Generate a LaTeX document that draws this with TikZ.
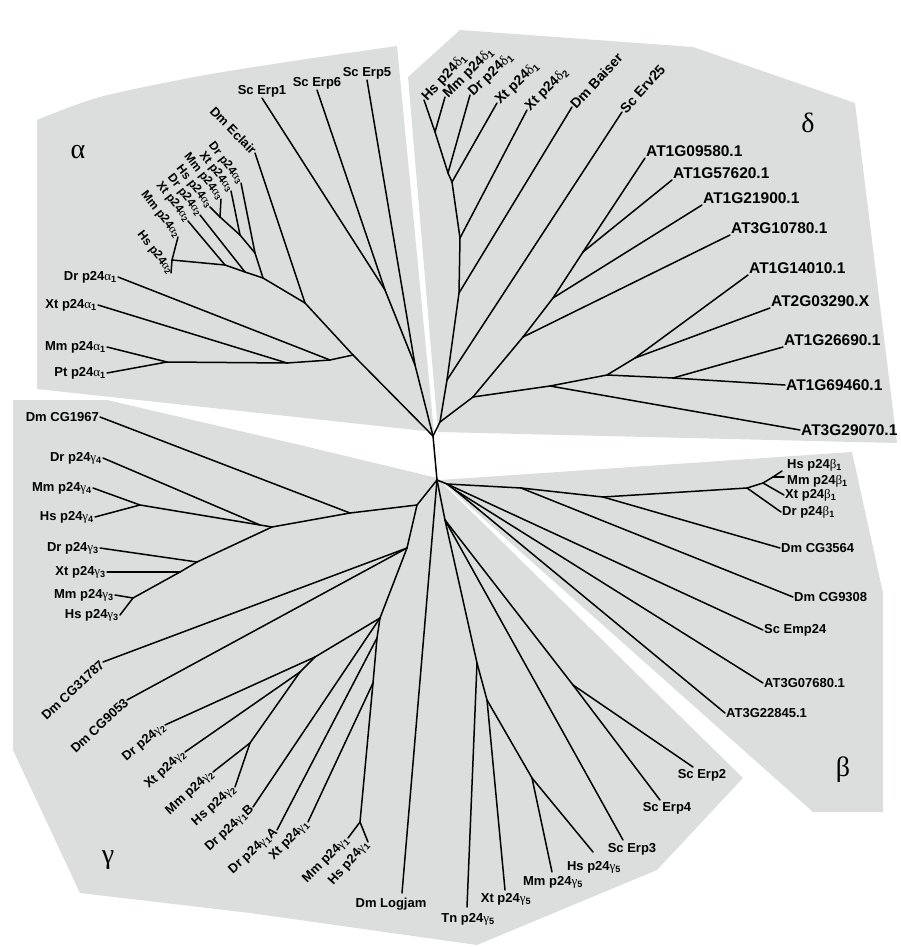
\documentclass[tikz,border=0pt]{standalone}
\usepackage{fontspec}
\setmainfont{Liberation Sans}
\newfontfamily\grk{Liberation Serif}
\newcommand\pg[2]{p24{\grk\mdseries #1}\textsubscript{#2}}
\begin{document}
\begin{tikzpicture}[x=1pt,y=-1pt,
  panel/.style={fill={rgb,255:red,220;green,222;blue,221},draw=none},
  br/.style={line width=1.5pt,line cap=round,line join=round},
  lab/.style={font=\bfseries\fontsize{13}{15}\selectfont,inner sep=1pt},
  laba/.style={font=\bfseries\fontsize{12}{14}\selectfont,inner sep=0.5pt},
  labd/.style={font=\bfseries\fontsize{14}{16}\selectfont,inner sep=1pt},
  labb/.style={font=\bfseries\fontsize{15.5}{17}\selectfont,inner sep=1pt},
  big/.style={font=\grk\fontsize{28}{30}\selectfont}]
\useasboundingbox (0,0) rectangle (901,947);
% panels
\fill[panel] plot[smooth,tension=0.5] coordinates {(37,120) (100,97) (200,76) (300,60) (397,46)} -- (434,432) -- (37,389) -- cycle;
\fill[panel] (408,77) -- (460,30) -- (693,47) -- (855,103) -- (897,443) -- (438,432) -- cycle;
\fill[panel] (440,480) -- (852,452) -- (883,593) -- (883,812) -- (813,812) -- cycle;
\fill[panel] (13,400) -- (107,400) -- (300,445) -- (437,478) -- (743,778) -- (657,870) -- (477,945) -- (250,913) -- (80,893) -- (13,750) -- cycle;
\node[big] (galpha) at (78,152) {α};
\node[big] (gdelta) at (808,123) {δ};
\node[big] (gbeta) at (843,770) {β};
\node[big] (ggamma) at (108,860) {γ};
% internal nodes
\coordinate (A) at (433,436);
\coordinate (B) at (437,480);
\coordinate (E5) at (415,365);
\coordinate (E16) at (385,290);
\coordinate (Na) at (305,303);
\coordinate (Aa1) at (353,355);
\coordinate (a23) at (263,278);
\coordinate (r3) at (255,253);
\coordinate (x3) at (240,235);
\coordinate (m3) at (220,217);
\coordinate (r2) at (245,272);
\coordinate (x2) at (225,265);
\coordinate (m2) at (172,260);
\coordinate (a1b) at (330,360);
\coordinate (a1a) at (287,363);
\coordinate (a1mp) at (167,362);
% leaves alpha
\coordinate (lErp1) at (262,98);
\coordinate (lErp6) at (317,90);
\coordinate (lErp5) at (367,80);
\coordinate (lEcl) at (255,153);
\coordinate (lDra3) at (241,183);
\coordinate (lXta3) at (231,191);
\coordinate (lMma3) at (221,199);
\coordinate (lHsa3) at (210,207);
\coordinate (lDra2) at (200,215);
\coordinate (lXta2) at (188,221);
\coordinate (lMma2) at (178,237);
\coordinate (lHsa2) at (171,273);
\coordinate (lDra1) at (118,277);
\coordinate (lXta1) at (98,305);
\coordinate (lMma1) at (107,347);
\coordinate (lPta1) at (107,373);
\draw[br] (A) -- (B);
\draw[br] (A) -- (E5); \draw[br] (E5) -- (E16);
\draw[br] (E16) -- (lErp1); \draw[br] (E16) -- (lErp6); \draw[br] (E5) -- (lErp5);
\draw[br] (A) -- (Aa1); \draw[br] (Aa1) -- (Na); \draw[br] (Na) -- (lEcl);
\draw[br] (Na) -- (a23); \draw[br] (a23) -- (r3); \draw[br] (a23) -- (r2);
\draw[br] (r3) -- (lDra3); \draw[br] (r3) -- (x3); \draw[br] (x3) -- (lXta3);
\draw[br] (x3) -- (m3); \draw[br] (m3) -- (lMma3); \draw[br] (m3) -- (lHsa3);
\draw[br] (r2) -- (lDra2); \draw[br] (r2) -- (x2); \draw[br] (x2) -- (lXta2);
\draw[br] (x2) -- (m2); \draw[br] (m2) -- (lMma2); \draw[br] (m2) -- (lHsa2);
\draw[br] (Aa1) -- (a1b); \draw[br] (a1b) -- (lDra1); \draw[br] (a1b) -- (a1a);
\draw[br] (a1a) -- (lXta1); \draw[br] (a1a) -- (a1mp);
\draw[br] (a1mp) -- (lMma1); \draw[br] (a1mp) -- (lPta1);
\node[lab,anchor=south] (tErp1) at (lErp1) {Sc Erp1};
\node[lab,anchor=south] (tErp6) at (lErp6) {Sc Erp6};
\node[lab,anchor=south] (tErp5) at (lErp5) {Sc Erp5};
\node[lab,anchor=east,rotate=-46] (tEcl) at (lEcl) {Dm Eclair};
\node[laba,anchor=east,rotate=-52] (tDra3) at (lDra3) {Dr \pg{α}{3}};
\node[laba,anchor=east,rotate=-52] (tXta3) at (lXta3) {Xt \pg{α}{3}};
\node[laba,anchor=east,rotate=-52] (tMma3) at (lMma3) {Mm \pg{α}{3}};
\node[laba,anchor=east,rotate=-52] (tHsa3) at (lHsa3) {Hs \pg{α}{3}};
\node[laba,anchor=east,rotate=-52] (tDra2) at (lDra2) {Dr \pg{α}{2}};
\node[laba,anchor=east,rotate=-52] (tXta2) at (lXta2) {Xt \pg{α}{2}};
\node[laba,anchor=east,rotate=-52] (tMma2) at (lMma2) {Mm \pg{α}{2}};
\node[laba,anchor=east,rotate=-52] (tHsa2) at (lHsa2) {Hs \pg{α}{2}};
\node[lab,anchor=east] (tDra1) at (lDra1) {Dr \pg{α}{1}};
\node[lab,anchor=east] (tXta1) at (lXta1) {Xt \pg{α}{1}};
\node[lab,anchor=east] (tMma1) at (lMma1) {Mm \pg{α}{1}};
\node[lab,anchor=east] (tPta1) at (lPta1) {Pt \pg{α}{1}};
% delta
\coordinate (D0) at (440,422);
\coordinate (d1) at (447,380);
\coordinate (d2) at (459,293);
\coordinate (d3) at (460,238);
\coordinate (d4) at (452,182);
\coordinate (d5) at (448,173);
\coordinate (d6) at (435,132);
\coordinate (lHsd) at (424,100);
\coordinate (lMmd) at (445,97);
\coordinate (lDrd) at (470,95);
\coordinate (lXtd1) at (497,103);
\coordinate (lXtd2) at (527,110);
\coordinate (lBai) at (572,107);
\coordinate (lErv) at (622,112);
\draw[br] (A) -- (D0); \draw[br] (D0) -- (d1); \draw[br] (d1) -- (lErv);
\draw[br] (d1) -- (d2); \draw[br] (d2) -- (lBai); \draw[br] (d2) -- (d3);
\draw[br] (d3) -- (lXtd2); \draw[br] (d3) -- (d4); \draw[br] (d4) -- (lXtd1);
\draw[br] (d4) -- (d5); \draw[br] (d5) -- (lDrd); \draw[br] (d5) -- (d6);
\draw[br] (d6) -- (lHsd); \draw[br] (d6) -- (lMmd);
\node[labd,anchor=west,rotate=47] (tHsd) at (lHsd) {Hs \pg{δ}{1}};
\node[labd,anchor=west,rotate=45] (tMmd) at (lMmd) {Mm \pg{δ}{1}};
\node[labd,anchor=west,rotate=44] (tDrd) at (lDrd) {Dr \pg{δ}{1}};
\node[labd,anchor=west,rotate=44] (tXtd1) at (lXtd1) {Xt \pg{δ}{1}};
\node[labd,anchor=west,rotate=45] (tXtd2) at (lXtd2) {Xt \pg{δ}{2}};
\node[labd,anchor=west,rotate=47] (tBai) at (lBai) {Dm Baiser};
\node[labd,anchor=west,rotate=48] (tErv) at (lErv) {Sc Erv25};
% AT (delta)
\coordinate (P3) at (473,397);
\coordinate (t1) at (523,337);
\coordinate (t2) at (553,298);
\coordinate (t3) at (583,252);
\coordinate (P2) at (550,386);
\coordinate (P1) at (607,375);
\coordinate (u1) at (635,358);
\coordinate (u2) at (673,378);
\coordinate (lAT1) at (645,158);
\coordinate (lAT2) at (672,180);
\coordinate (lAT3) at (702,205);
\coordinate (lAT4) at (730,235);
\coordinate (lAT5) at (748,275);
\coordinate (lAT6) at (770,308);
\coordinate (lAT7) at (783,347);
\coordinate (lAT8) at (785,385);
\coordinate (lAT9) at (800,430);
\draw[br] (D0) -- (P3); \draw[br] (P3) -- (t1); \draw[br] (t1) -- (lAT4);
\draw[br] (t1) -- (t2); \draw[br] (t2) -- (lAT3); \draw[br] (t2) -- (t3);
\draw[br] (t3) -- (lAT1); \draw[br] (t3) -- (lAT2);
\draw[br] (P3) -- (P2); \draw[br] (P2) -- (lAT9); \draw[br] (P2) -- (P1);
\draw[br] (P1) -- (u1); \draw[br] (u1) -- (lAT5); \draw[br] (u1) -- (lAT6);
\draw[br] (P1) -- (u2); \draw[br] (u2) -- (lAT7); \draw[br] (u2) -- (lAT8);
\node[labb,anchor=south west] (tAT1) at (lAT1) {AT1G09580.1};
\node[labb,anchor=south west] (tAT2) at (lAT2) {AT1G57620.1};
\node[labb,anchor=south west] (tAT3) at (lAT3) {AT1G21900.1};
\node[labb,anchor=south west] (tAT4) at (lAT4) {AT3G10780.1};
\node[labb,anchor=south west] (tAT5) at (lAT5) {AT1G14010.1};
\node[labb,anchor=south west] (tAT6) at (lAT6) {AT2G03290.X};
\node[labb,anchor=south west] (tAT7) at (lAT7) {AT1G26690.1};
\node[labb,anchor=west] (tAT8) at (lAT8) {AT1G69460.1};
\node[labb,anchor=west] (tAT9) at (lAT9) {AT3G29070.1};
% beta
\coordinate (b0) at (447,484);
\coordinate (b1) at (521,488);
\coordinate (b2) at (603,497);
\coordinate (b3) at (747,488);
\coordinate (b4) at (763,483);
\coordinate (b5) at (773,477);
\coordinate (b6) at (455,490);
\coordinate (lHsb) at (782,471);
\coordinate (lMmb) at (784,477);
\coordinate (lXtb) at (784,495);
\coordinate (lDrb) at (781,512);
\coordinate (lC35) at (780,548);
\coordinate (lC93) at (793,597);
\coordinate (lEmp) at (763,630);
\coordinate (lAT10) at (763,683);
\coordinate (lAT11) at (725,713);
\draw[br] (B) -- (b0); \draw[br] (b0) -- (b1); \draw[br] (b1) -- (lC93);
\draw[br] (b1) -- (b2); \draw[br] (b2) -- (lC35); \draw[br] (b2) -- (b3);
\draw[br] (b3) -- (lDrb); \draw[br] (b3) -- (b4); \draw[br] (b4) -- (lXtb);
\draw[br] (b4) -- (b5); \draw[br] (b5) -- (lHsb); \draw[br] (b5) -- (lMmb);
\draw[br] (b0) -- (lEmp); \draw[br] (b0) -- (b6);
\draw[br] (b6) -- (lAT10); \draw[br] (b6) -- (lAT11);
\node[lab,anchor=west] (tHsb) at (786,465) {Hs \pg{β}{1}};
\node[lab,anchor=west] (tMmb) at (786,481) {Mm \pg{β}{1}};
\node[lab,anchor=west] (tXtb) at (lXtb) {Xt \pg{β}{1}};
\node[lab,anchor=west] (tDrb) at (lDrb) {Dr \pg{β}{1}};
\node[lab,anchor=west] (tC35) at (lC35) {Dm CG3564};
\node[lab,anchor=west] (tC93) at (lC93) {Dm CG9308};
\node[lab,anchor=west] (tEmp) at (lEmp) {Sc Emp24};
\node[lab,anchor=west] (tAT10) at (lAT10) {AT3G07680.1};
\node[lab,anchor=west] (tAT11) at (lAT11) {AT3G22845.1};
% gamma left
\coordinate (G2) at (417,505);
\coordinate (G1) at (350,513);
\coordinate (G43) at (272,527);
\coordinate (g4) at (260,525);
\coordinate (g4mh) at (140,505);
\coordinate (g3a) at (197,562);
\coordinate (g3b) at (180,572);
\coordinate (g3mh) at (133,598);
\coordinate (lC19) at (100,417);
\coordinate (lDrg4) at (103,458);
\coordinate (lMmg4) at (93,488);
\coordinate (lHsg4) at (95,517);
\coordinate (lDrg3) at (100,548);
\coordinate (lXtg3) at (107,572);
\coordinate (lMmg3) at (115,595);
\coordinate (lHsg3) at (120,615);
\draw[br] (B) -- (G2); \draw[br] (G2) -- (G1); \draw[br] (G1) -- (lC19);
\draw[br] (G1) -- (G43); \draw[br] (G43) -- (g4); \draw[br] (g4) -- (lDrg4);
\draw[br] (g4) -- (g4mh); \draw[br] (g4mh) -- (lMmg4); \draw[br] (g4mh) -- (lHsg4);
\draw[br] (G43) -- (g3a); \draw[br] (g3a) -- (lDrg3); \draw[br] (g3a) -- (g3b);
\draw[br] (g3b) -- (lXtg3); \draw[br] (g3b) -- (g3mh);
\draw[br] (g3mh) -- (lMmg3); \draw[br] (g3mh) -- (lHsg3);
\node[lab,anchor=east] (tC19) at (lC19) {Dm CG1967};
\node[lab,anchor=east] (tDrg4) at (lDrg4) {Dr \pg{γ}{4}};
\node[lab,anchor=east] (tMmg4) at (lMmg4) {Mm \pg{γ}{4}};
\node[lab,anchor=east] (tHsg4) at (lHsg4) {Hs \pg{γ}{4}};
\node[lab,anchor=east] (tDrg3) at (lDrg3) {Dr \pg{γ}{3}};
\node[lab,anchor=east] (tXtg3) at (lXtg3) {Xt \pg{γ}{3}};
\node[lab,anchor=east] (tMmg3) at (lMmg3) {Mm \pg{γ}{3}};
\node[lab,anchor=east] (tHsg3) at (lHsg3) {Hs \pg{γ}{3}};
% gamma lower-left
\coordinate (G3) at (407,548);
\coordinate (g12) at (380,618);
\coordinate (g2a) at (315,657);
\coordinate (g2b) at (300,672);
\coordinate (g2mh) at (250,743);
\coordinate (g1a) at (377,638);
\coordinate (g1b) at (373,683);
\coordinate (g1mh) at (360,822);
\coordinate (lC317) at (103,662);
\coordinate (lC905) at (127,700);
\coordinate (lDrg2) at (165,725);
\coordinate (lXtg2) at (185,752);
\coordinate (lMmg2) at (213,772);
\coordinate (lHsg2) at (235,787);
\coordinate (lDrg1B) at (253,807);
\coordinate (lDrg1A) at (277,830);
\coordinate (lXtg1) at (308,822);
\coordinate (lMmg1) at (348,838);
\coordinate (lHsg1) at (368,842);
\draw[br] (G2) -- (G3); \draw[br] (G3) -- (lC317); \draw[br] (G3) -- (lC905);
\draw[br] (G3) -- (g12); \draw[br] (g12) -- (g2a); \draw[br] (g2a) -- (lDrg2);
\draw[br] (g2a) -- (g2b); \draw[br] (g2b) -- (lXtg2); \draw[br] (g2b) -- (g2mh);
\draw[br] (g2mh) -- (lMmg2); \draw[br] (g2mh) -- (lHsg2);
\draw[br] (g12) -- (lDrg1B); \draw[br] (g12) -- (g1a); \draw[br] (g1a) -- (lDrg1A);
\draw[br] (g1a) -- (g1b); \draw[br] (g1b) -- (lXtg1); \draw[br] (g1b) -- (g1mh);
\draw[br] (g1mh) -- (lMmg1); \draw[br] (g1mh) -- (lHsg1);
\node[lab,anchor=east,rotate=43] (tC317) at (lC317) {Dm CG31787};
\node[lab,anchor=east,rotate=43] (tC905) at (lC905) {Dm CG9053};
\node[lab,anchor=east,rotate=40] (tDrg2) at (lDrg2) {Dr \pg{γ}{2}};
\node[lab,anchor=east,rotate=42] (tXtg2) at (lXtg2) {Xt \pg{γ}{2}};
\node[lab,anchor=east,rotate=42] (tMmg2) at (lMmg2) {Mm \pg{γ}{2}};
\node[lab,anchor=east,rotate=42] (tHsg2) at (lHsg2) {Hs \pg{γ}{2}};
\node[lab,anchor=east,rotate=43] (tDrg1B) at (lDrg1B) {Dr \pg{γ}{1}B};
\node[lab,anchor=east,rotate=42] (tDrg1A) at (lDrg1A) {Dr \pg{γ}{1}A};
\node[lab,anchor=east,rotate=45] (tXtg1) at (lXtg1) {Xt \pg{γ}{1}};
\node[lab,anchor=east,rotate=45] (tMmg1) at (lMmg1) {Mm \pg{γ}{1}};
\node[lab,anchor=east,rotate=48] (tHsg1) at (lHsg1) {Hs \pg{γ}{1}};
% gamma bottom
\coordinate (G6) at (445,520);
\coordinate (T0) at (477,663);
\coordinate (T1) at (487,700);
\coordinate (T2) at (532,778);
\coordinate (R24) at (573,685);
\coordinate (lLog) at (402,893);
\coordinate (lTn) at (467,907);
\coordinate (lXt5) at (505,890);
\coordinate (lMm5) at (552,872);
\coordinate (lHs5) at (593,852);
\coordinate (lErp3) at (623,840);
\coordinate (lErp4) at (660,800);
\coordinate (lErp2) at (693,767);
\draw[br] (B) -- (lLog); \draw[br] (B) -- (G6);
\draw[br] (G6) -- (T0); \draw[br] (T0) -- (lTn); \draw[br] (T0) -- (T1);
\draw[br] (T1) -- (lXt5); \draw[br] (T1) -- (T2);
\draw[br] (T2) -- (lMm5); \draw[br] (T2) -- (lHs5);
\draw[br] (G6) -- (lErp3); \draw[br] (G6) -- (R24);
\draw[br] (R24) -- (lErp4); \draw[br] (R24) -- (lErp2);
\node[lab] (tLog) at (391,904) {Dm Logjam};
\node[lab] (tTn) at (468,919) {Tn \pg{γ}{5}};
\node[lab] (tXt5) at (506,899) {Xt \pg{γ}{5}};
\node[lab] (tMm5) at (553,882) {Mm \pg{γ}{5}};
\node[lab] (tHs5) at (594,867) {Hs \pg{γ}{5}};
\node[lab] (tErp3) at (632,849) {Sc Erp3};
\node[lab] (tErp4) at (667,808) {Sc Erp4};
\node[lab] (tErp2) at (702,775) {Sc Erp2};
\end{tikzpicture}
\end{document}
